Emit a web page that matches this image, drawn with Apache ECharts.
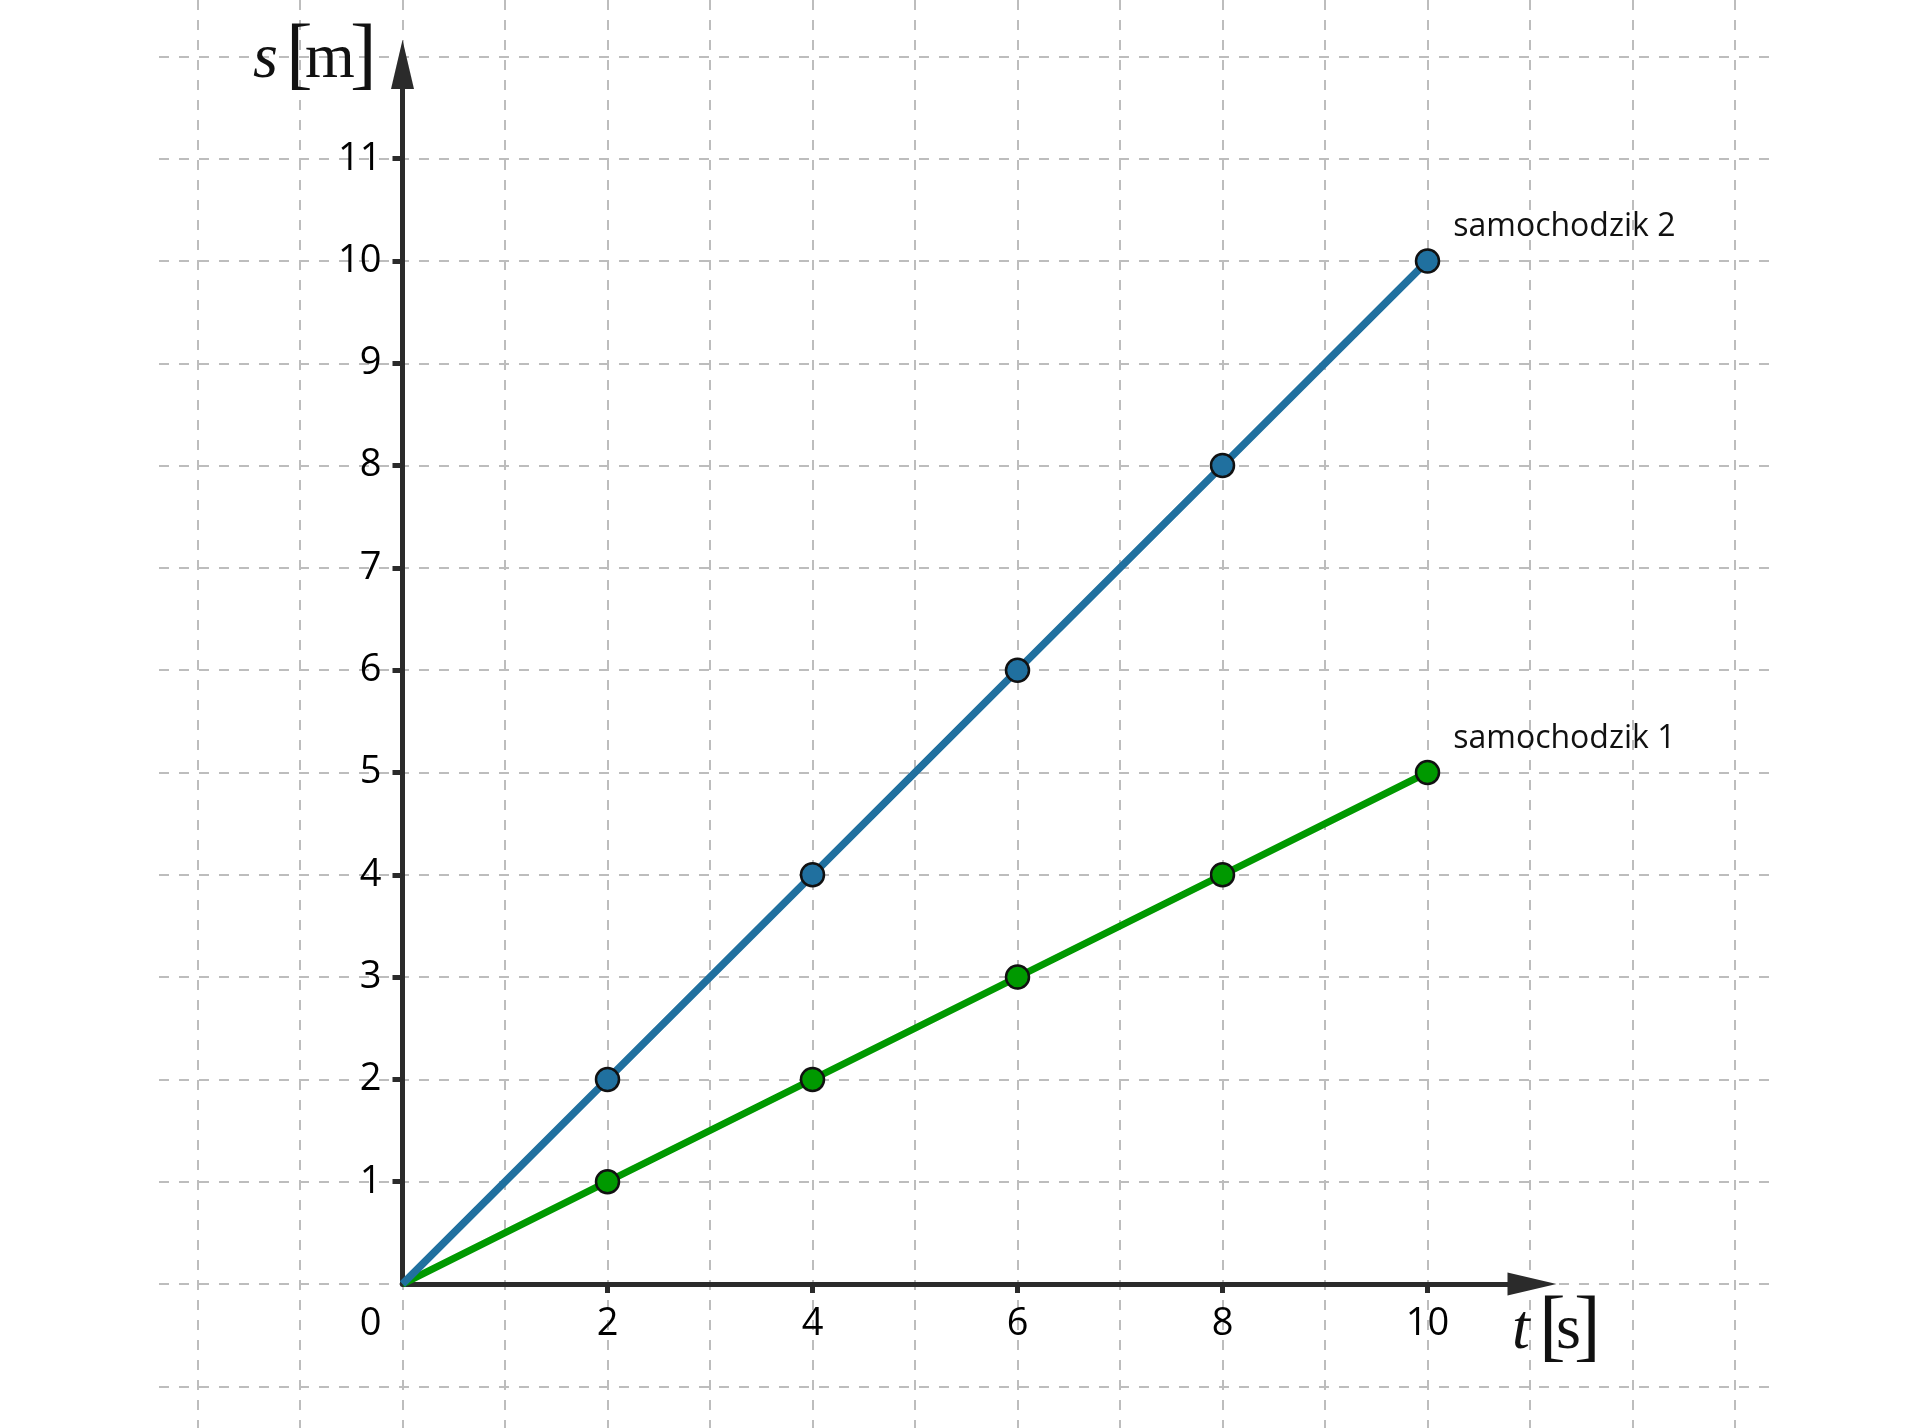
<!DOCTYPE html>
<html>
<head>
<meta charset="utf-8">
<title>samochodziki</title>
<script src="https://cdn.jsdelivr.net/npm/echarts@6/dist/echarts.min.js"></script>
<style>
  html, body { margin: 0; padding: 0; background: #fff; }
  #main { width: 1920px; height: 1428px; }
</style>
</head>
<body>
<div id="main"></div>
<script>
// czas [s] i droga [m] dla obu samochodzików
const times = [0, 2, 4, 6, 8, 10];
const dist1 = [0, 1, 2, 3, 4, 5];
const dist2 = [0, 2, 4, 6, 8, 10];
const seriesNames = ['samochodzik 1', 'samochodzik 2'];
const xTickValues = [0, 2, 4, 6, 8, 10];
const yTickValues = [1, 2, 3, 4, 5, 6, 7, 8, 9, 10, 11];

// layout in pixels (one unit on each axis)
const UX = 102.5;
const UY = 102.3;
const OX = 402.5;
const OY = 1284;

const font = '"Open Sans", "Noto Sans", sans-serif';
const serif = '"Liberation Serif", serif';
const axisColor = '#2b2b2b';
const gridLine = { show: true, lineStyle: { color: '#bdbdbd', width: 2, type: [10, 10] } };

const toPoints = (ys) => times.map((t, i) => (i === 0 ? { value: [t, ys[i]], symbol: 'none' } : [t, ys[i]]));

const endLabel = (name) => ({
  show: true,
  position: 'right',
  offset: [8, -34],
  formatter: () => name,
  fontFamily: font,
  fontSize: 32,
  color: '#111'
});

const makeSeries = (name, ys, color, width) => ({
  name: name,
  type: 'line',
  xAxisIndex: 2,
  yAxisIndex: 2,
  data: toPoints(ys).map((p, i) => {
    if (i === ys.length - 1) {
      return { value: p, label: endLabel(name) };
    }
    return p;
  }),
  symbol: 'circle',
  symbolSize: 23,
  lineStyle: { color: color, width: width },
  itemStyle: { color: color, borderColor: '#111', borderWidth: 2.5 },
  label: { show: false },
  emphasis: { disabled: true },
  animation: false
});

const chart = echarts.init(document.getElementById('main'));

const option = {
  backgroundColor: '#fff',
  animation: false,
  grid: [
    // vertical dashed lines, full height
    { left: OX - 2 * UX, top: 0, width: 15 * UX, height: 1428 },
    // horizontal dashed lines
    { left: 159, top: OY - 12 * UY, width: 1611, height: 13 * UY },
    // main plot with axes
    { left: OX, top: OY - 12 * UY, width: 11 * UX, height: 12 * UY }
  ],
  xAxis: [
    {
      gridIndex: 0, type: 'value', min: -2, max: 13, interval: 1,
      axisLine: { show: false }, axisTick: { show: false }, axisLabel: { show: false },
      splitLine: gridLine
    },
    { gridIndex: 1, type: 'value', min: 0, max: 1, show: false },
    {
      gridIndex: 2, type: 'value', min: 0, max: 11, interval: 1,
      axisLine: {
        show: true, onZero: false,
        symbol: ['none', 'triangle'], symbolSize: [23, 49], symbolOffset: [0, 2],
        lineStyle: { color: axisColor, width: 5 }
      },
      axisTick: {
        show: true, customValues: [2, 4, 6, 8, 10], length: 9,
        lineStyle: { color: axisColor, width: 5 }
      },
      axisLabel: {
        show: true, customValues: xTickValues, margin: 21,
        fontFamily: font, fontSize: 38, color: '#000',
        formatter: (v) => (v === 0 ? '{z|0}' : String(v)),
        rich: { z: { fontFamily: font, fontSize: 38, color: '#000', padding: [0, 64, 10, 0] } }
      },
      splitLine: { show: false }
    }
  ],
  yAxis: [
    { gridIndex: 0, type: 'value', min: 0, max: 1, show: false },
    {
      gridIndex: 1, type: 'value', min: -1, max: 12, interval: 1,
      axisLine: { show: false }, axisTick: { show: false }, axisLabel: { show: false },
      splitLine: gridLine
    },
    {
      gridIndex: 2, type: 'value', min: 0, max: 12, interval: 1,
      axisLine: {
        show: true, onZero: false,
        symbol: ['none', 'triangle'], symbolSize: [23, 49], symbolOffset: [0, -8],
        lineStyle: { color: axisColor, width: 5 }
      },
      axisTick: {
        show: true, customValues: yTickValues, length: 10,
        lineStyle: { color: axisColor, width: 5 }
      },
      axisLabel: {
        show: true, customValues: yTickValues, margin: 21,
        fontFamily: font, fontSize: 38, color: '#000'
      },
      splitLine: { show: false }
    }
  ],
  series: [
    makeSeries(seriesNames[0], dist1, '#009900', 7),
    makeSeries(seriesNames[1], dist2, '#20709f', 7.5)
  ],
  graphic: [
    // s [m]
    { type: 'text', left: 253, top: 28, z: 10,
      style: { text: 's', font: 'italic 64px ' + serif, fill: '#111' } },
    { type: 'text', left: 286, top: 18, z: 10,
      style: { text: '[', font: '80px ' + serif, fill: '#111' } },
    { type: 'text', left: 305, top: 28, z: 10,
      style: { text: 'm', font: '64px ' + serif, fill: '#111' } },
    { type: 'text', left: 350, top: 18, z: 10,
      style: { text: ']', font: '80px ' + serif, fill: '#111' } },
    // t [s]
    { type: 'text', left: 1512, top: 1299, z: 10,
      style: { text: 't', font: 'italic 64px ' + serif, fill: '#111' } },
    { type: 'text', left: 1539, top: 1290, z: 10,
      style: { text: '[', font: '80px ' + serif, fill: '#111' } },
    { type: 'text', left: 1556, top: 1299, z: 10,
      style: { text: 's', font: '64px ' + serif, fill: '#111' } },
    { type: 'text', left: 1574, top: 1290, z: 10,
      style: { text: ']', font: '80px ' + serif, fill: '#111' } }
  ]
};

chart.setOption(option);
</script>
</body>
</html>
